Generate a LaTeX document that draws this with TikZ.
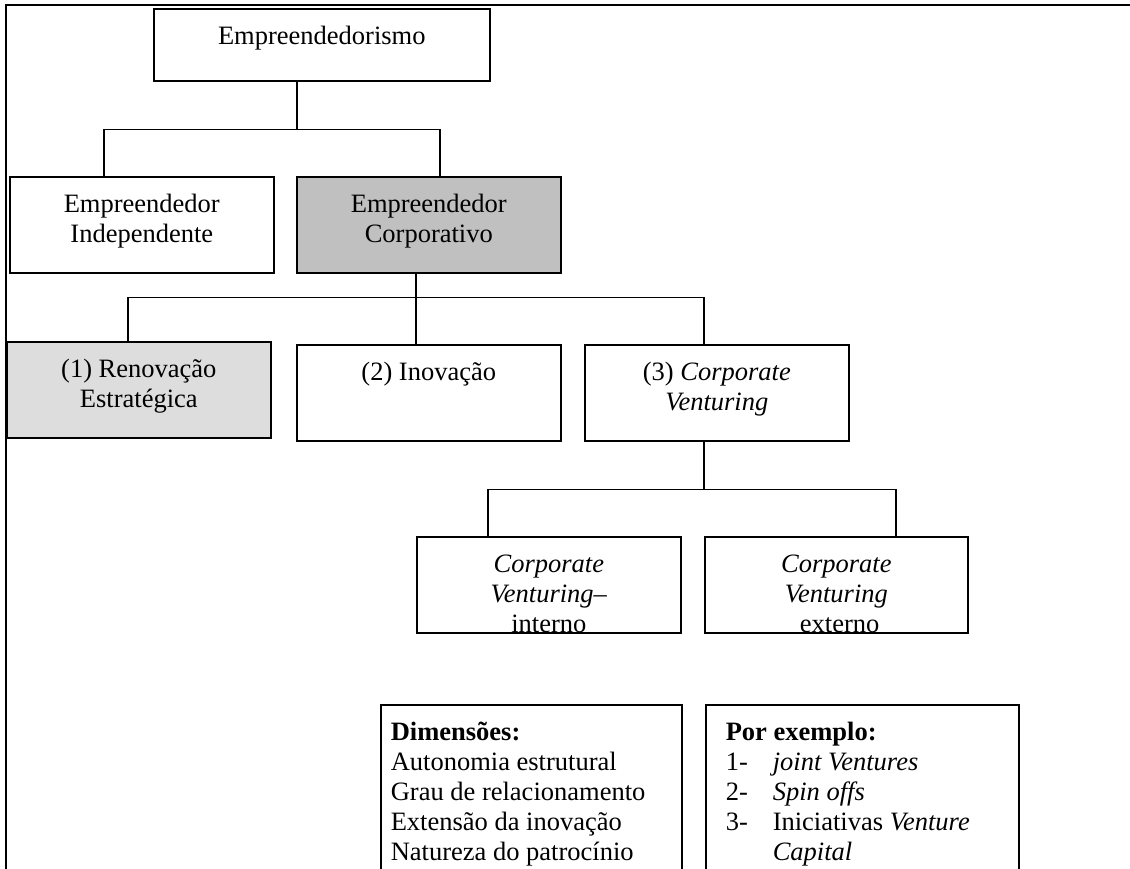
\documentclass[tikz,border=0pt]{standalone}
\usepackage{fontspec}
\setmainfont{Liberation Serif}
\usetikzlibrary{calc}

% Box contents: centred lines, first baseline 36pt below the top edge
\newcommand{\ctext}[3]{\parbox[c][#2][t]{#1}{\centering\rule{0pt}{36pt}#3}}
% Box contents: left-aligned lines with a left margin
\newcommand{\ltext}[4]{\parbox[c][#2][t]{#1}{\raggedright\leftskip=#3\rule{0pt}{36pt}#4}}
\newcommand{\itemno}[1]{\makebox[47pt][l]{#1}}

\definecolor{corpgray}{HTML}{C0C0C0}
\definecolor{renogray}{HTML}{DDDDDD}

\begin{document}
\begin{tikzpicture}[x=1pt, y=-1pt,
  box/.style={draw, line width=1.6pt, inner sep=0pt, anchor=north west,
    font=\fontsize{26.5pt}{30pt}\selectfont},
  conn/.style={draw, line width=1.3pt},
  frame/.style={draw, line width=2.4pt}]

\useasboundingbox (0,0) rectangle (1130,869);

% outer frame (top and left edges)
\draw[frame] (6,869) -- (6,5) -- (1130,5);

% level 0
\node[box] (root) at (153,8) {\ctext{336pt}{72pt}{Empreendedorismo}};

% level 1
\node[box] (ind) at (9,176) {\ctext{264pt}{96pt}{Empreendedor\\Independente}};
\node[box, fill=corpgray] (corp) at (296,176) {\ctext{264pt}{96pt}{Empreendedor\\Corporativo}};

% level 2
\node[box, fill=renogray] (ren) at (6,341) {\ctext{264pt}{96pt}{(1) Renovação\\Estratégica}};
\node[box] (inov) at (296,344) {\ctext{264pt}{96pt}{(2) Inovação}};
\node[box] (cv) at (584,344) {\ctext{264pt}{96pt}{(3) \textit{Corporate}\\\textit{Venturing}}};

% level 3
\node[box] (cvi) at (416,536) {\ctext{264pt}{96pt}{\textit{Corporate}\\\textit{Venturing}–\\interno}};
\node[box] (cve) at (704,536) {\ctext{263pt}{96pt}{\textit{Corporate}\\\textit{Venturing}\\\mbox{} externo}};

% detail boxes (run past the lower edge)
\node[box] (dim) at (380,704) {\ltext{301pt}{200pt}{10pt}{%
  \textbf{Dimensões:}\\Autonomia estrutural\\Grau de relacionamento\\%
  Extensão da inovação\\Natureza do patrocínio}};
\node[box] (ex) at (705,704) {\ltext{313pt}{200pt}{20pt}{%
  \textbf{Por exemplo:}\\%
  \itemno{1-}\textit{joint Ventures}\\%
  \itemno{2-}\textit{Spin offs}\\%
  \itemno{3-}Iniciativas \textit{Venture}\\%
  \hspace*{47pt}\textit{Capital}}};

% connectors: root -> level 1
\path ([xshift=144pt]root.south west) ++(0,48) coordinate (j1);
\draw[conn] ([xshift=144pt]root.south west) -- (j1);
\draw[conn] ([xshift=95pt]ind.north west) |- (j1) -| ([xshift=144pt]corp.north west);

% connectors: corporate -> level 2
\path ([xshift=120pt]corp.south west) ++(0,24) coordinate (j2);
\draw[conn] ([xshift=120pt]corp.south west) -- ([xshift=120pt]inov.north west);
\draw[conn] ([xshift=122pt]ren.north west) |- (j2) -| ([xshift=120pt]cv.north west);

% connectors: corporate venturing -> level 3
\path ([xshift=120pt]cv.south west) ++(0,48) coordinate (j3);
\draw[conn] ([xshift=120pt]cv.south west) -- (j3);
\draw[conn] ([xshift=72pt]cvi.north west) |- (j3) -| ([xshift=192pt]cve.north west);

\end{tikzpicture}
\end{document}
